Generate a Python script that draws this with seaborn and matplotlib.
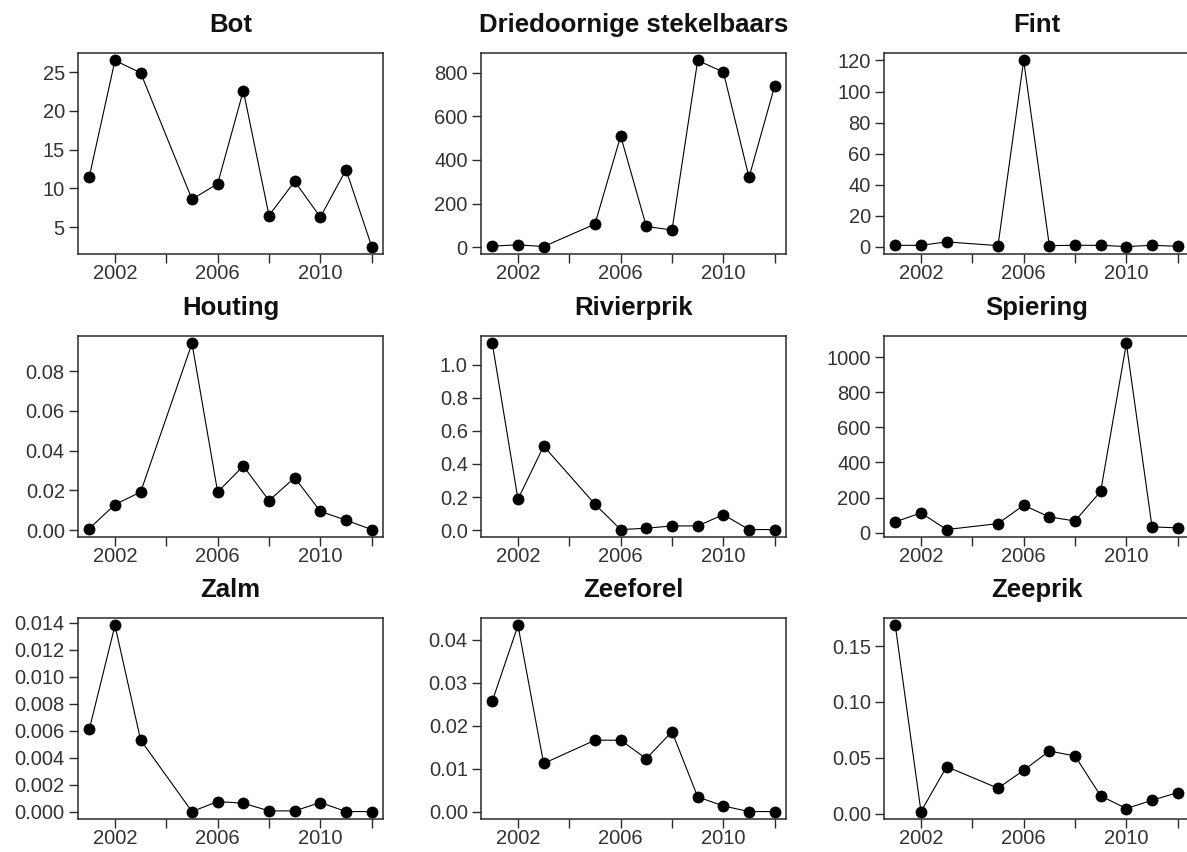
import matplotlib
matplotlib.use("Agg")
import matplotlib.pyplot as plt
import matplotlib.ticker as mticker
import numpy as np
import pandas as pd
import seaborn as sns

# Survey years (no sampling in 2004)
years = [2001, 2002, 2003, 2005, 2006, 2007, 2008, 2009, 2010, 2011, 2012]

species = ["Bot", "Driedoornige stekelbaars", "Fint",
           "Houting", "Rivierprik", "Spiering",
           "Zalm", "Zeeforel", "Zeeprik"]

bot = [11.5, 26.5, 24.9, 8.6, 10.6, 22.6, 6.5, 10.9, 6.3, 12.4, 2.5]
driedoornige = [5, 11, 3, 106, 510, 95, 79, 856, 803, 320, 740]
fint = [1.0, 1.0, 3.2, 0.8, 120, 0.8, 1.0, 1.0, 0.2, 1.0, 0.4]
houting = [0.0008, 0.0129, 0.0192, 0.094, 0.0192, 0.0323, 0.0149, 0.0264,
           0.0095, 0.005, 0.0003]
rivierprik = [1.128, 0.187, 0.508, 0.157, 0.004, 0.012, 0.026, 0.026,
              0.094, 0.004, 0.004]
spiering = [61, 112, 17, 51, 156, 89, 66, 235, 1080, 32, 27]
zalm = [0.0061, 0.0138, 0.0053, 0.0, 0.00074, 0.00062, 0.00005, 0.00005,
        0.00067, 0.0, 0.0]
zeeforel = [0.0257, 0.0433, 0.0112, 0.0166, 0.0166, 0.0123, 0.0186, 0.0034,
            0.0013, 0.0, 0.0]
zeeprik = [0.1685, 0.0018, 0.042, 0.0227, 0.0388, 0.056, 0.0516, 0.0158,
           0.0045, 0.0119, 0.0188]

series = [bot, driedoornige, fint, houting, rivierprik, spiering,
          zalm, zeeforel, zeeprik]

# y tick spacing and label format per panel
y_steps = [5, 200, 20, 0.02, 0.2, 200, 0.002, 0.01, 0.05]
y_formats = ["{:.0f}", "{:.0f}", "{:.0f}", "{:.2f}", "{:.1f}", "{:.0f}",
             "{:.3f}", "{:.2f}", "{:.2f}"]

x_ticks = [2002, 2004, 2006, 2008, 2010, 2012]
x_labels = ["2002", "", "2006", "", "2010", ""]

df = pd.concat(
    [pd.DataFrame({"soort": name, "jaar": years, "waarde": vals})
     for name, vals in zip(species, series)],
    ignore_index=True,
)

sns.set_theme(style="ticks")
plt.rcParams["font.family"] = ["Liberation Sans", "DejaVu Sans"]

W, H = 1187, 852
fig = plt.figure(figsize=(W / 100, H / 100), dpi=100)
fig.patch.set_facecolor("white")

col_left = [78, 481, 884]
row_top = [53, 336, 618]
ax_w, ax_h = 305, 201

tick_col = "#333333"
frame_col = "#2a2a2a"

for i, name in enumerate(species):
    r, c = divmod(i, 3)
    x0, y0 = col_left[c], row_top[r]
    ax = fig.add_axes([x0 / W, 1 - (y0 + ax_h) / H, ax_w / W, ax_h / H])
    sub = df[df["soort"] == name]
    sns.lineplot(data=sub, x="jaar", y="waarde", ax=ax, color="black",
                 linewidth=0.8, marker="o", markersize=8,
                 markeredgecolor="black", markerfacecolor="black",
                 markeredgewidth=0.5)
    ax.margins(x=0.04, y=0.04)
    ax.set_title(name, fontsize=18.5, fontweight="bold", color="#111111",
                 pad=15)
    ax.set_xlabel("")
    ax.set_ylabel("")
    ax.set_xticks(x_ticks)
    ax.set_xticklabels(x_labels)
    ax.yaxis.set_major_locator(mticker.MultipleLocator(y_steps[i]))
    fmt = y_formats[i]
    ax.yaxis.set_major_formatter(
        mticker.FuncFormatter(lambda v, p, f=fmt: f.format(abs(v) if abs(v) < 1e-12 else v)))
    ax.tick_params(axis="both", direction="out", length=6.5, width=1.0,
                   color=frame_col, labelsize=14.5, labelcolor=tick_col)
    ax.tick_params(axis="x", pad=1)
    ax.tick_params(axis="y", pad=3)
    for s in ax.spines.values():
        s.set_visible(True)
        s.set_color(frame_col)
        s.set_linewidth(1.1)
    ax.set_facecolor("white")

fig.savefig("out.png", dpi=100, facecolor="white")
